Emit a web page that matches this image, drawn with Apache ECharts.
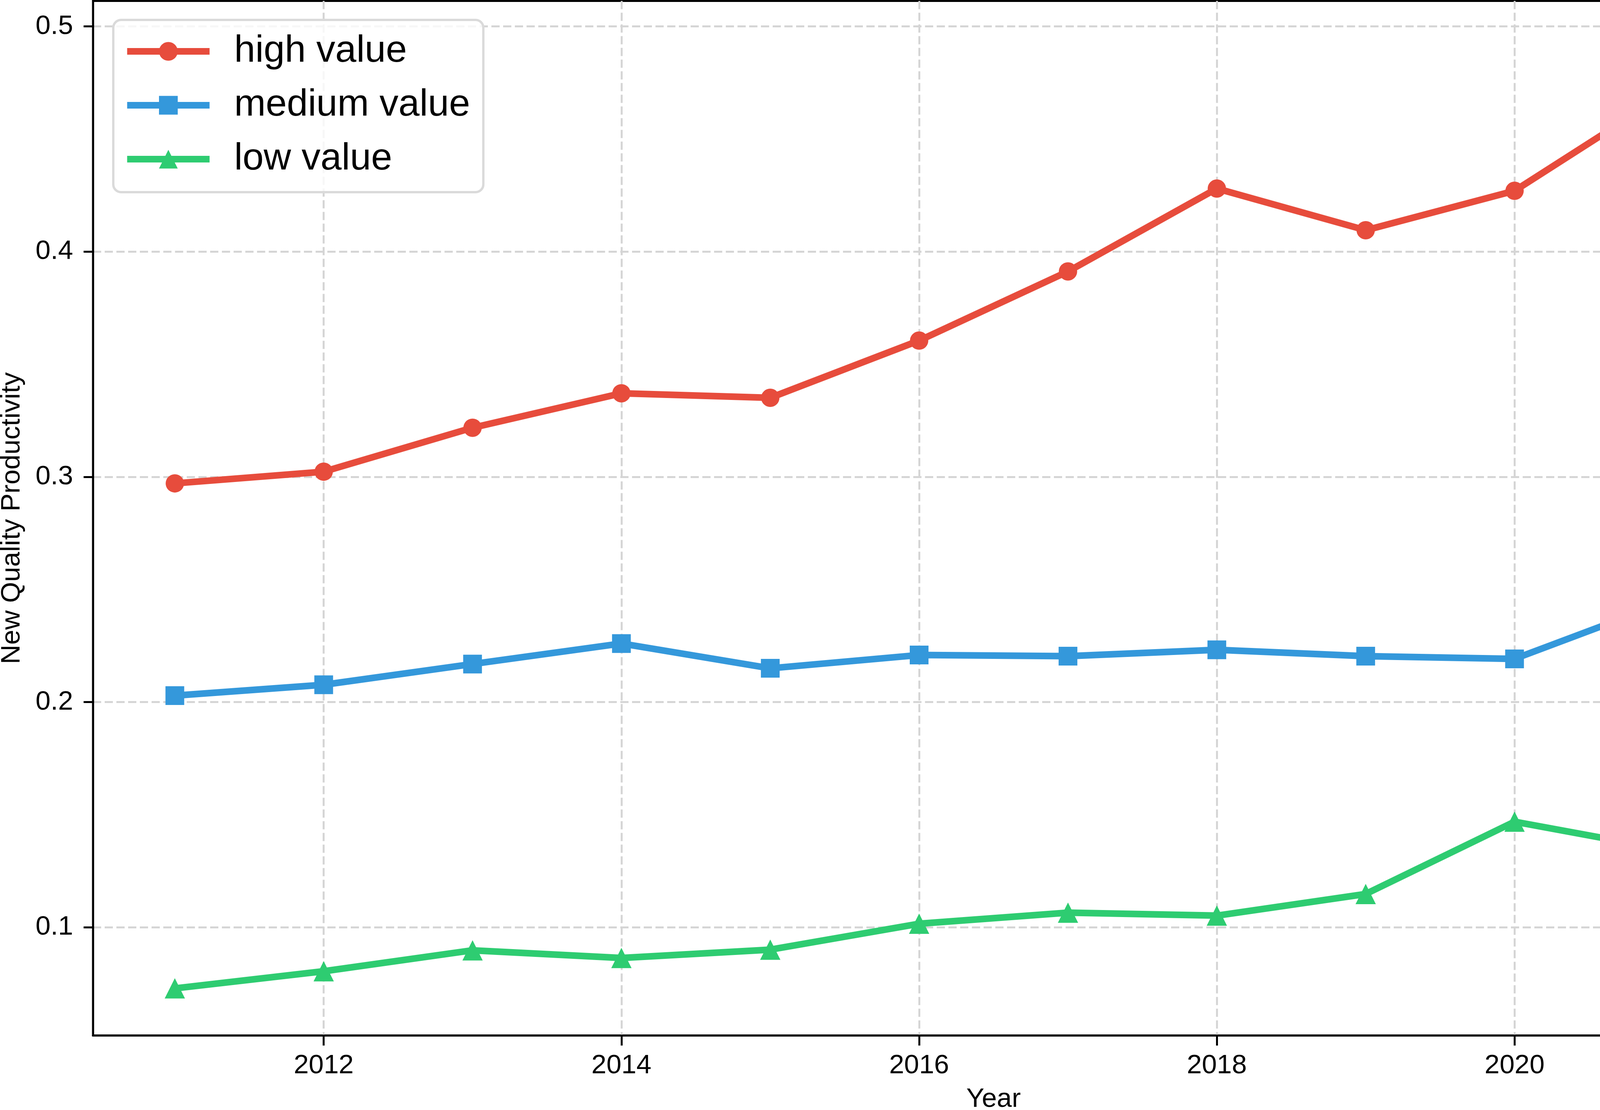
<!DOCTYPE html>
<html>
<head>
<meta charset="utf-8">
<script src="https://cdn.jsdelivr.net/npm/echarts@6/dist/echarts.min.js"></script>
<style>
html,body{margin:0;padding:0;background:#ffffff;}
#chart{width:4855px;height:2842px;}
</style>
</head>
<body>
<div id="chart"></div>
<script>
// ---- data ----
const years = [2011, 2012, 2013, 2014, 2015, 2016, 2017, 2018, 2019, 2020, 2021, 2022];
const highValue = [0.2971, 0.3023, 0.3218, 0.3371, 0.3351, 0.3605, 0.3912, 0.4280, 0.4095, 0.4270, 0.4693, 0.4904];
const mediumValue = [0.2029, 0.2077, 0.2169, 0.2260, 0.2150, 0.2209, 0.2204, 0.2232, 0.2204, 0.2192, 0.2440, 0.2624];
const lowValue = [0.0729, 0.0805, 0.0898, 0.0864, 0.0901, 0.1016, 0.1065, 0.1052, 0.1148, 0.1469, 0.1347, 0.1486];
const seriesNames = ['high value', 'medium value', 'low value'];
const xTickValues = [2012, 2014, 2016, 2018, 2020, 2022];
const yTickValues = [0.1, 0.2, 0.3, 0.4, 0.5];
const xAxisTitle = 'Year';
const yAxisTitle = 'New Quality Productivity';

// ---- styling ----
const FONT = '"Liberation Sans", Arial, Helvetica, sans-serif';
const colors = ['#e74c3c', '#3498db', '#2ecc71'];
const symbols = ['circle', 'rect', 'triangle'];
const symbolSizes = [47, 48, 52];

// matplotlib-like 5% margins
const allVals = highValue.concat(mediumValue, lowValue);
const vMin = Math.min.apply(null, allVals), vMax = Math.max.apply(null, allVals);
const yPad = (vMax - vMin) * 0.05;
const xPad = (years[years.length - 1] - years[0]) * 0.05;

function pairs(vals) { return years.map((y, i) => [y, vals[i]]); }
const seriesData = [highValue, mediumValue, lowValue];

const gridLine = { show: true, lineStyle: { color: '#d5d5d5', width: 5, type: [21, 9] } };

const chart = echarts.init(document.getElementById('chart'), null, { renderer: 'canvas' });
chart.setOption({
  backgroundColor: '#ffffff',
  animation: false,
  textStyle: { fontFamily: FONT },
  grid: {
    left: 238, right: 6, top: 2.5, bottom: 191,
    outerBoundsMode: 'none', containLabel: false,
    show: true, borderColor: '#000', borderWidth: 5, backgroundColor: 'transparent'
  },
  legend: {
    orient: 'vertical',
    left: 290, top: 51,
    padding: [32, 34, 36, 27],
    itemWidth: 211, itemHeight: 60, itemGap: 41,
    backgroundColor: 'rgba(255,255,255,0.8)',
    borderColor: '#dadada', borderWidth: 6, borderRadius: 20,
    lineStyle: { width: 17 },
    textStyle: { fontSize: 97, color: '#000', fontFamily: FONT, padding: [0, 0, 0, 58] },
    data: seriesNames
  },
  xAxis: {
    type: 'value',
    min: years[0] - xPad, max: years[years.length - 1] + xPad,
    name: xAxisTitle, nameLocation: 'middle', nameGap: 129,
    nameTextStyle: { fontSize: 69, color: '#000', fontFamily: FONT },
    axisLine: { show: true, lineStyle: { color: '#000', width: 5 } },
    axisTick: { show: true, customValues: xTickValues, length: 26, lineStyle: { color: '#000', width: 5 } },
    axisLabel: { customValues: xTickValues, margin: 43, fontSize: 69, color: '#000', fontFamily: FONT,
      formatter: v => String(Math.round(v)) },
    splitLine: gridLine
  },
  yAxis: {
    type: 'value',
    min: vMin - yPad, max: vMax + yPad,
    name: yAxisTitle, nameLocation: 'middle', nameGap: 173, nameRotate: 90,
    nameTextStyle: { fontSize: 69, color: '#000', fontFamily: FONT },
    axisLine: { show: true, lineStyle: { color: '#000', width: 5 } },
    axisTick: { show: true, customValues: yTickValues, length: 24, lineStyle: { color: '#000', width: 5 } },
    axisLabel: { customValues: yTickValues, margin: 51, fontSize: 69, color: '#000', fontFamily: FONT,
      formatter: v => v.toFixed(1) },
    splitLine: gridLine
  },
  series: seriesNames.map((name, i) => ({
    name: name,
    type: 'line',
    data: pairs(seriesData[i]),
    symbol: symbols[i],
    symbolSize: symbolSizes[i],
    showAllSymbol: true,
    lineStyle: { color: colors[i], width: 17 },
    itemStyle: { color: colors[i], borderWidth: 0 },
    emphasis: { disabled: true },
    z: 3 + i
  }))
});
</script>
</body>
</html>
